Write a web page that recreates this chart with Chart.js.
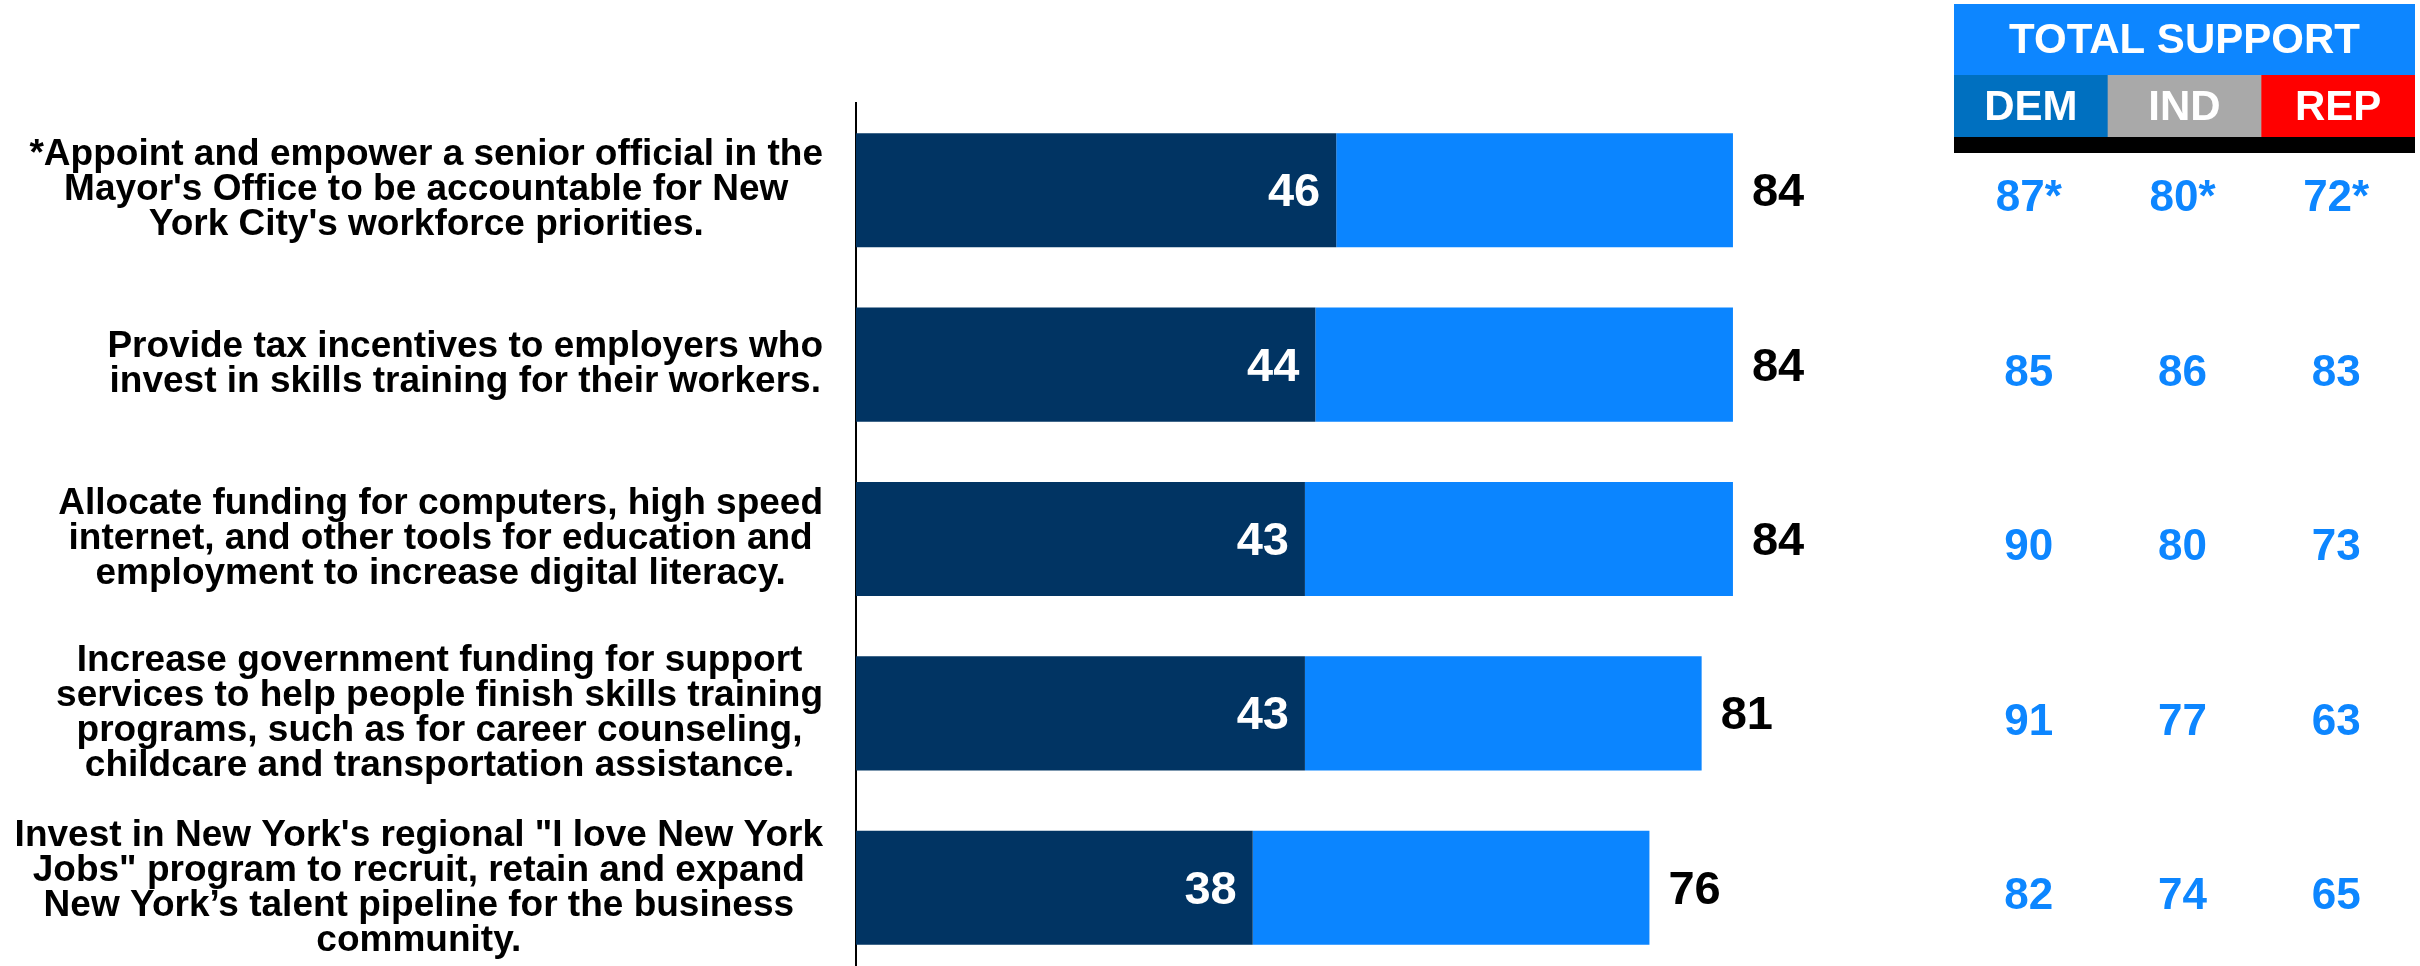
<!DOCTYPE html>
<html>
<head>
<meta charset="utf-8">
<script src="https://cdn.jsdelivr.net/npm/chart.js@4/dist/chart.umd.min.js"></script>
<style>
  html, body { margin: 0; padding: 0; background: #ffffff; overflow: hidden; }
  #wrap { width: 2420px; height: 966px; position: relative; overflow: hidden; }
</style>
</head>
<body>
<div id="wrap"><canvas id="c" width="2420" height="976"></canvas></div>
<script>
// ---- data ----
const categories = [
  ["*Appoint and empower a senior official in the", "Mayor's Office to be accountable for New", "York City's workforce priorities."],
  ["Provide tax incentives to employers who", "invest in skills training for their workers."],
  ["Allocate funding for computers, high speed", "internet, and other tools for education and", "employment to increase digital literacy."],
  ["Increase government funding for support", "services to help people finish skills training", "programs, such as for career counseling,", "childcare and transportation assistance."],
  ["Invest in New York's regional \"I love New York", "Jobs\" program to recruit, retain and expand", "New York\u2019s talent pipeline for the business", "community."]
];
const strongSupport = [46, 44, 43, 43, 38];
const totalSupport = [84, 84, 84, 81, 76];
const partyHeaders = ["DEM", "IND", "REP"];
const demSupport = ["87*", "85", "90", "91", "82"];
const indSupport = ["80*", "86", "80", "77", "74"];
const repSupport = ["72*", "83", "73", "63", "65"];
const tableTitle = "TOTAL SUPPORT";

const somewhatSupport = totalSupport.map((t, i) => t - strongSupport[i]);

const DARK = '#013463';
const LIGHT = '#0B85FF';
const FONT = '"Liberation Sans", Arial, sans-serif';

const overlay = {
  id: 'overlay',
  afterDatasetsDraw(chart) {
    const ctx = chart.ctx;
    const yScale = chart.scales.y;
    const m0 = chart.getDatasetMeta(0);
    const m1 = chart.getDatasetMeta(1);
    ctx.save();
    // category labels
    ctx.font = 'bold 37px ' + FONT;
    ctx.fillStyle = '#000';
    ctx.textBaseline = 'middle';
    ctx.textAlign = 'center';
    const lineH = 35;
    const rightEdge = chart.chartArea.left - 33;
    categories.forEach((lines, i) => {
      const yc = yScale.getPixelForValue(i);
      const maxW = Math.max(...lines.map(l => ctx.measureText(l).width));
      const cx = rightEdge - maxW / 2;
      const y0 = yc - (lines.length - 1) * lineH / 2;
      lines.forEach((l, k) => ctx.fillText(l, cx, y0 + k * lineH));
    });
    // bar value labels
    ctx.font = 'bold 47px ' + FONT;
    strongSupport.forEach((v, i) => {
      const el = m0.data[i];
      ctx.fillStyle = '#fff';
      ctx.textAlign = 'right';
      ctx.fillText(String(v), el.x - 16, el.y + 3);
    });
    totalSupport.forEach((v, i) => {
      const el = m1.data[i];
      ctx.fillStyle = '#000';
      ctx.textAlign = 'left';
      ctx.fillText(String(v), el.x + 19, el.y + 3);
    });
    // table header
    const tx = 1954, tw = 461, colW = tw / 3;
    ctx.fillStyle = '#0D86FF';
    ctx.fillRect(tx, 4, tw, 71);
    const partyColors = ['#0070C0', '#A9A9A9', '#FF0000'];
    partyHeaders.forEach((h, j) => {
      ctx.fillStyle = partyColors[j];
      ctx.fillRect(tx + j * colW, 75, colW + (j < 2 ? 0.5 : 0), 62);
    });
    ctx.fillStyle = '#000';
    ctx.fillRect(tx, 137, tw, 16);
    ctx.fillStyle = '#fff';
    ctx.textAlign = 'center';
    ctx.font = 'bold 42px ' + FONT;
    ctx.fillText(tableTitle, tx + tw / 2, 41);
    partyHeaders.forEach((h, j) => ctx.fillText(h, tx + colW * (j + 0.5), 108));
    // table values
    ctx.fillStyle = '#0D86FF';
    ctx.font = 'bold 44px ' + FONT;
    [demSupport, indSupport, repSupport].forEach((col, j) => {
      col.forEach((v, i) => {
        const yc = yScale.getPixelForValue(i);
        ctx.fillText(v, tx + colW * (j + 0.5) - 2, yc + 9);
      });
    });
    ctx.restore();
  }
};

new Chart(document.getElementById('c'), {
  type: 'bar',
  data: {
    labels: categories,
    datasets: [
      { label: 'Strongly support', data: strongSupport, backgroundColor: DARK, borderWidth: 0 },
      { label: 'Somewhat support', data: somewhatSupport, backgroundColor: LIGHT, borderWidth: 0 }
    ]
  },
  options: {
    indexAxis: 'y',
    responsive: false,
    animation: false,
    devicePixelRatio: 1,
    layout: { padding: { left: 848, right: 520, top: 103, bottom: 1 } },
    categoryPercentage: 1,
    barPercentage: 0.654,
    plugins: { legend: { display: false }, tooltip: { enabled: false } },
    scales: {
      x: { stacked: true, min: 0, max: 100, display: false },
      y: {
        stacked: true,
        grid: { display: false },
        border: { display: true, color: '#000', width: 2 },
        ticks: { display: false }
      }
    }
  },
  plugins: [overlay]
});
</script>
</body>
</html>
